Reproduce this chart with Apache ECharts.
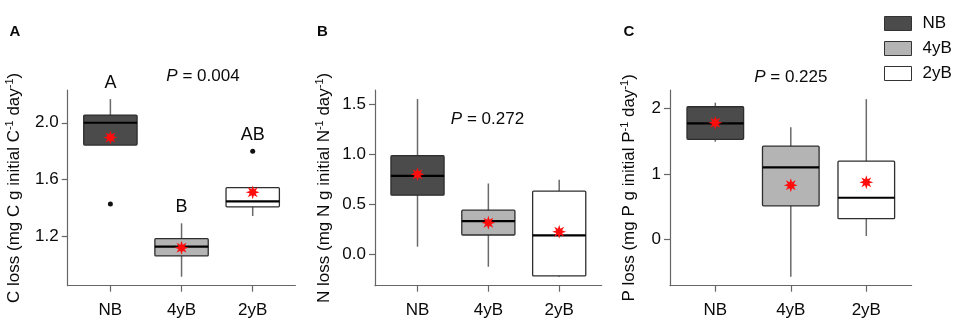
<!DOCTYPE html>
<html>
<head>
<meta charset="utf-8">
<title>C, N and P loss</title>
<script src="https://cdn.jsdelivr.net/npm/echarts@6/dist/echarts.min.js"></script>
<style>
  html, body { margin: 0; padding: 0; background: #fff; }
  #main { width: 957px; height: 330px; }
</style>
</head>
<body>
<div id="main"></div>
<script>
// groups along x (1, 2, 3)
const groups = ['NB', '4yB', '2yB']
const groupPos = [1, 2, 3]

// box stats per group: [low whisker, Q1, median, Q3, high whisker]
const cStats = [
  [1.843, 1.843, 2.0, 2.054, 2.166],
  [0.919, 1.065, 1.13, 1.186, 1.294],
  [1.345, 1.41, 1.448, 1.544, 1.544]
]
const cMeans = [1.897, 1.123, 1.512]
const cOutliers = [[1, 1.43], [3, 1.80]]
const cLetters = ['A', 'B', 'AB']
const cTicks = [1.2, 1.6, 2.0]

const nStats = [
  [0.08, 0.593, 0.784, 0.986, 1.55],
  [-0.12, 0.196, 0.335, 0.443, 0.709],
  [-0.22, -0.212, 0.193, 0.633, 0.746]
]
const nMeans = [0.80, 0.318, 0.229]
const nTicks = [0.0, 0.5, 1.0, 1.5]

const pStats = [
  [1.49, 1.527, 1.771, 2.024, 2.086],
  [-0.572, 0.512, 1.098, 1.423, 1.71],
  [0.05, 0.315, 0.635, 1.193, 2.14]
]
const pMeans = [1.78, 0.827, 0.87]
const pTicks = [0, 1, 2]

const pValues = ['0.004', '0.272', '0.225']

// styles
const fills = ['#4b4b4b', '#b4b4b4', '#ffffff']
const font = 'Liberation Sans, Arial, sans-serif'
const ink = '#0a0a0a'

const panels = [
  {
    label: 'A', el: 'C', stats: cStats, means: cMeans, outliers: cOutliers, letters: cLetters,
    ticks: cTicks, digits: 1, yMin: 0.856, yMax: 2.23,
    left: 67.7, width: 227.7, nameGap: 43, pPos: [203, 76], labelX: 15
  },
  {
    label: 'B', el: 'N', stats: nStats, means: nMeans, outliers: [], letters: null,
    ticks: nTicks, digits: 1, yMin: -0.309, yMax: 1.64,
    left: 375, width: 226.7, nameGap: 41, pPos: [487.5, 119], labelX: 322.5
  },
  {
    label: 'C', el: 'P', stats: pStats, means: pMeans, outliers: [], letters: null,
    ticks: pTicks, digits: 0, yMin: -0.708, yMax: 2.28,
    left: 670, width: 241.6, nameGap: 31, pPos: [790.8, 77], labelX: 629
  }
]

function starSymbol() {
  let d = ''
  for (let k = 0; k < 16; k++) {
    const a = k * Math.PI / 8 - Math.PI / 2
    const r = k % 2 === 0 ? 10 : 4.6
    d += (k ? 'L' : 'M') + (r * Math.cos(a)).toFixed(2) + ' ' + (r * Math.sin(a)).toFixed(2) + ' '
  }
  return 'path://' + d + 'Z'
}

function renderBox(params, api) {
  const x = api.value(0)
  const lo = api.coord([x, api.value(1)])
  const q1 = api.coord([x, api.value(2)])
  const md = api.coord([x, api.value(3)])
  const q3 = api.coord([x, api.value(4)])
  const hi = api.coord([x, api.value(5)])
  const half = api.size([0.75, 0])[0] / 2
  return {
    type: 'group',
    children: [
      {
        type: 'line',
        shape: { x1: lo[0], y1: lo[1], x2: hi[0], y2: hi[1] },
        style: { stroke: '#6a6a6a', lineWidth: 1.5 }
      },
      {
        type: 'rect',
        shape: { x: q3[0] - half, y: q3[1], width: half * 2, height: q1[1] - q3[1], r: 1 },
        style: { fill: api.visual('color'), stroke: '#2e2e2e', lineWidth: 1.3 }
      },
      {
        type: 'line',
        shape: { x1: md[0] - half, y1: md[1], x2: md[0] + half, y2: md[1] },
        style: { stroke: '#000', lineWidth: 2.2 }
      }
    ]
  }
}

const option = {
  animation: false,
  textStyle: { fontFamily: font },
  grid: panels.map(p => ({ left: p.left, top: 90, width: p.width, height: 195.7 })),
  xAxis: panels.map((p, i) => ({
    type: 'value',
    gridIndex: i,
    min: 0.4,
    max: 3.6,
    axisLine: { show: true, onZero: false, lineStyle: { color: '#666', width: 1.2 } },
    axisTick: { show: true, length: 6, customValues: groupPos, lineStyle: { color: '#666', width: 1.2 } },
    axisLabel: {
      customValues: groupPos,
      formatter: v => groups[Math.round(v) - 1],
      fontSize: 17,
      color: ink,
      margin: 16
    },
    splitLine: { show: false }
  })),
  yAxis: panels.map((p, i) => ({
    type: 'value',
    gridIndex: i,
    min: p.yMin,
    max: p.yMax,
    axisLine: { show: true, onZero: false, lineStyle: { color: '#666', width: 1.2 } },
    axisTick: { show: true, length: 6, customValues: p.ticks, lineStyle: { color: '#666', width: 1.2 } },
    axisLabel: {
      customValues: p.ticks,
      formatter: v => v.toFixed(p.digits),
      fontSize: 17,
      color: ink,
      margin: 9
    },
    splitLine: { show: false },
    name: '{t|' + p.el + ' loss (mg ' + p.el + ' g initial ' + p.el + '}{s|-1}{t| day}{s|-1}{t|)}',
    nameLocation: 'middle',
    nameGap: p.nameGap,
    nameTextStyle: {
      rich: {
        t: { fontSize: 17, color: ink, lineHeight: 20 },
        s: { fontSize: 11, color: ink, lineHeight: 12, verticalAlign: 'top' }
      }
    }
  })),
  legend: {
    orient: 'vertical',
    left: 879,
    top: 10,
    itemWidth: 27,
    itemHeight: 14,
    itemGap: 8,
    icon: 'rect',
    textStyle: { fontSize: 17, color: ink, lineHeight: 14, padding: [0, 0, 0, 6] },
    data: groups.map((g, i) => ({
      name: g,
      itemStyle: { color: fills[i], borderColor: '#333', borderWidth: 1 }
    }))
  },
  graphic: panels.flatMap((p, i) => [
    {
      type: 'text',
      x: p.labelX,
      y: 31.5,
      style: {
        text: p.label,
        font: 'bold 15px ' + font,
        fill: ink,
        align: 'center',
        verticalAlign: 'middle'
      }
    },
    {
      type: 'text',
      x: p.pPos[0],
      y: p.pPos[1],
      style: {
        text: '{i|P} = ' + pValues[i],
        font: '17px ' + font,
        fill: ink,
        align: 'center',
        verticalAlign: 'middle',
        rich: { i: { fontStyle: 'italic', fontSize: 17, fontFamily: font, fill: ink } }
      }
    }
  ]),
  series: []
}

panels.forEach((p, i) => {
  groups.forEach((g, k) => {
    option.series.push({
      type: 'custom',
      name: g,
      xAxisIndex: i,
      yAxisIndex: i,
      renderItem: renderBox,
      itemStyle: { color: fills[k] },
      encode: { x: 0, y: [1, 2, 3, 4, 5] },
      data: [[groupPos[k]].concat(p.stats[k])],
      z: 2
    })
  })
  if (p.outliers.length) {
    option.series.push({
      type: 'scatter',
      xAxisIndex: i,
      yAxisIndex: i,
      symbol: 'circle',
      symbolSize: 5,
      itemStyle: { color: '#111', opacity: 1 },
      data: p.outliers,
      z: 3
    })
  }
  option.series.push({
    type: 'scatter',
    xAxisIndex: i,
    yAxisIndex: i,
    symbol: starSymbol(),
    symbolSize: 14,
    itemStyle: { color: '#ff0d0d', opacity: 1 },
    data: p.means.map((m, k) => [groupPos[k], m]),
    z: 4
  })
  if (p.letters) {
    // letter sits above the highest mark of each group
    const tops = p.stats.map((s, k) => {
      const outs = p.outliers.filter(o => o[0] === groupPos[k]).map(o => o[1])
      return Math.max(s[4], ...outs)
    })
    option.series.push({
      type: 'scatter',
      xAxisIndex: i,
      yAxisIndex: i,
      symbolSize: 0,
      clip: false,
      silent: true,
      itemStyle: { opacity: 1 },
      label: {
        show: true,
        position: 'top',
        distance: 7,
        fontSize: 18,
        color: ink,
        opacity: 1,
        formatter: d => p.letters[d.dataIndex]
      },
      data: tops.map((t, k) => [groupPos[k], t]),
      z: 5
    })
  }
})

const chart = echarts.init(document.getElementById('main'))
chart.setOption(option)
window.addEventListener('resize', () => chart.resize())
</script>
</body>
</html>
